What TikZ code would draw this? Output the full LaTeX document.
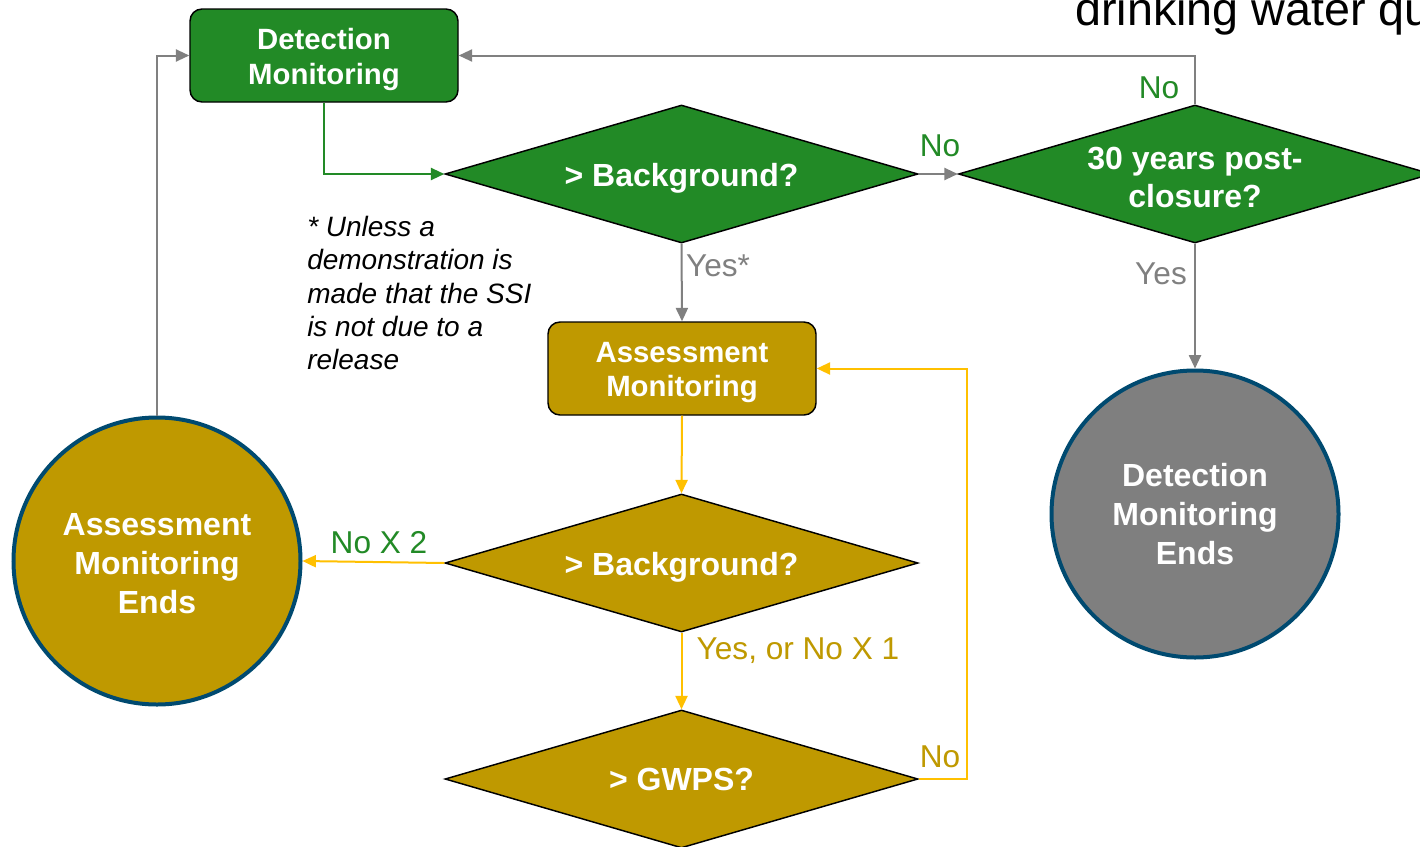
\documentclass[tikz,border=0pt]{standalone}
\usepackage{fontspec}
\setmainfont{Liberation Sans}
\usetikzlibrary{shapes.geometric,arrows.meta}
\definecolor{dgreen}{HTML}{228A26}
\definecolor{gold}{HTML}{BF9900}
\definecolor{ylw}{HTML}{FFC000}
\definecolor{lgray}{HTML}{808080}
\definecolor{navy}{HTML}{004A70}
\definecolor{cgray}{HTML}{7F7F7F}
\tikzset{
  box/.style={draw=black, line width=1.1pt, rounded corners=9pt, minimum width=268*0.75pt, minimum height=93*0.75pt, inner sep=0pt},
  dia/.style={diamond, draw=black, line width=1.1pt, minimum width=473*0.75pt, minimum height=138*0.75pt, inner sep=0pt, aspect=3.43},
  endc/.style={circle, draw=navy, line width=3pt, minimum size=287*0.75pt, inner sep=0pt},
  tx/.style={text=white, inner sep=0pt, align=center, font=\bfseries\fontsize{22}{26}\selectfont},
  dtx/.style={tx, font=\bfseries\fontsize{24}{28}\selectfont},
  ctx/.style={tx, font=\bfseries\fontsize{24}{29}\selectfont},
  lab/.style={font=\fontsize{23.7}{28}\selectfont, inner sep=0pt},
  garrow/.style={draw=dgreen, line width=1.5pt, -{Triangle[length=10pt,width=9pt]}},
  grarrow/.style={draw=lgray, line width=1.5pt, -{Triangle[length=10pt,width=9pt]}},
  yarrow/.style={draw=ylw, line width=1.5pt, -{Triangle[length=10pt,width=9pt]}},
}
\begin{document}
\begin{tikzpicture}[x=0.75pt,y=-0.75pt]
\useasboundingbox (0,0) rectangle (1420,846);
\fill[white] (0,0) rectangle (1420,846);
\node[anchor=base west, inner sep=0pt, font=\fontsize{35}{40}\selectfont] (title) at (1075,25) {drinking water quality};
% shapes
\node[box, fill=dgreen] (dm) at (324,55.5) {};
\node[dia, fill=dgreen] (d1) at (681.5,174) {};
\node[dia, fill=dgreen] (d2) at (1195,174) {};
\node[box, fill=gold] (am) at (682,368.5) {};
\node[dia, fill=gold] (d3) at (681.5,563) {};
\node[dia, fill=gold] (d4) at (681.5,779) {};
\node[endc, fill=gold] (c1) at (157,561) {};
\node[endc, fill=cgray] (c2) at (1195,514) {};
% texts
\node[tx] (dmt) at (324,59.5) {Detection\\Monitoring};
\node[dtx] (d1t) at (681.5,178) {> Background?};
\node[dtx] (d2t) at (1195,177.5) {30 years post-\\closure?};
\node[tx] (amt) at (682,372.5) {Assessment\\Monitoring};
\node[dtx] (d3t) at (681.5,567) {> Background?};
\node[dtx] (d4t) at (681.5,779.5) {> GWPS?};
\node[ctx] (c1t) at (157,563.5) {Assessment\\Monitoring\\Ends};
\node[ctx] (c2t) at (1195,514) {Detection\\Monitoring\\Ends};
\node[anchor=north west, inner sep=0pt, align=left, font=\itshape\fontsize{21}{25}\selectfont] (note) at (307,216) {* Unless a\\demonstration is\\made that the SSI\\is not due to a\\release};
% connectors
\coordinate (r) at (967,779);
\draw[garrow] (dm.south) |- (d1.west);
\draw[grarrow] (d1.east) -- (d2.west);
\draw[grarrow] (d2.north) |- (dm.east);
\draw[grarrow] (d2.south) -- (c2.north);
\draw[grarrow] (d1.south) -- (am.north);
\draw[yarrow] (am.south) -- (d3.north);
\draw[yarrow] (d3.west) -- (c1.east);
\draw[yarrow] (d3.south) -- (d4.north);
\draw[yarrow] (d4.east) -- (r) |- (am.east);
\draw[grarrow] (c1.north) |- (dm.west);
% labels
\node[lab, text=dgreen] (l1) at (1159,88) {No};
\node[lab, text=dgreen] (l2) at (940,146) {No};
\node[lab, text=lgray] (l3) at (718,266) {Yes*};
\node[lab, text=lgray] (l4) at (1161,274) {Yes};
\node[lab, text=dgreen] (l5) at (379,543) {No X 2};
\node[lab, text=gold] (l6) at (798,651) {Yes, or No X 1};
\node[lab, text=gold] (l7) at (940,757) {No};
\end{tikzpicture}
\end{document}
